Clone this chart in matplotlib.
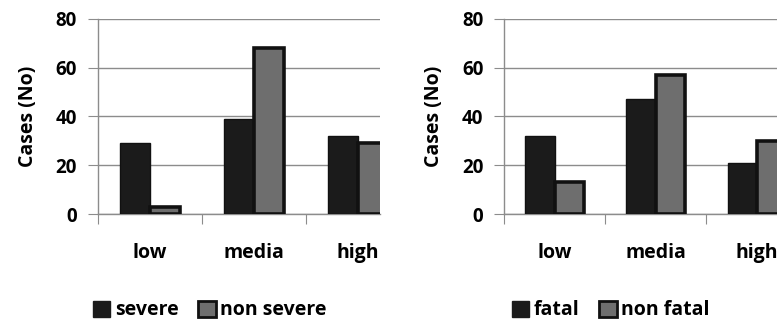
import numpy as np
import matplotlib.pyplot as plt
from matplotlib.patches import Patch

# data
categories = ['low', 'media', 'high']
severe = [29, 39, 32]
non_severe = [3, 68, 29]
fatal = [32, 47, 21]
non_fatal = [13, 57, 30]

plt.rcParams['font.family'] = ['Open Sans', 'DejaVu Sans']
plt.rcParams['font.weight'] = 'bold'

fig = plt.figure(figsize=(7.77, 3.2), dpi=100)
fig.set_facecolor('white')

dark = '#1b1b1b'
grey = '#6e6e6e'
line_grey = '#8c8c8c'
w = 0.29


def panel(rect, first, second, labels, xmax, legend_x):
    ax = fig.add_axes(rect)
    x = np.arange(len(categories))
    ax.bar(x - w / 2, first, w, color=dark, edgecolor='#111111', linewidth=1, zorder=3)
    ax.bar(x + w / 2, second, w, color=grey, edgecolor='#111111', linewidth=2.6, zorder=4)

    ax.set_ylim(0, 80)
    ax.set_xlim(-0.5, xmax)
    ax.set_yticks([0, 20, 40, 60, 80])
    ax.yaxis.grid(True, color=line_grey, linewidth=1, zorder=0)
    ax.tick_params(axis='y', length=7, color=line_grey, pad=8, labelsize=13.5)

    # boundary ticks without labels, labels at category centres
    ax.set_xticks([-0.5, 0.5, 1.5])
    ax.set_xticklabels([])
    ax.set_xticks(x, minor=True)
    ax.set_xticklabels(categories, minor=True)
    ax.tick_params(axis='x', which='major', length=7, color=line_grey, direction='out')
    ax.tick_params(axis='x', which='minor', length=0, pad=21, labelsize=14)

    for s in ['top', 'right']:
        ax.spines[s].set_visible(False)
    for s in ['left', 'bottom']:
        ax.spines[s].set(color=line_grey, linewidth=1)

    ax.set_ylabel('Cases (No)', fontsize=14, fontweight='bold', labelpad=13)

    handles = [Patch(facecolor=dark, edgecolor=dark),
               Patch(facecolor=grey, edgecolor='#111111', linewidth=2)]
    fig.legend(handles, labels, loc='center', bbox_to_anchor=(legend_x, 0.03),
               ncol=2, frameon=False, fontsize=14, handlelength=0.9, handleheight=0.9,
               handletextpad=0.25, columnspacing=1.0)
    return ax


panel([0.126, 0.331, 0.363, 0.61], severe, non_severe, ['severe', 'non severe'], 2.21, 0.27)
panel([0.649, 0.331, 0.351, 0.61], fatal, non_fatal, ['fatal', 'non fatal'], 2.2, 0.786)

fig.savefig('out.png', dpi=100)
